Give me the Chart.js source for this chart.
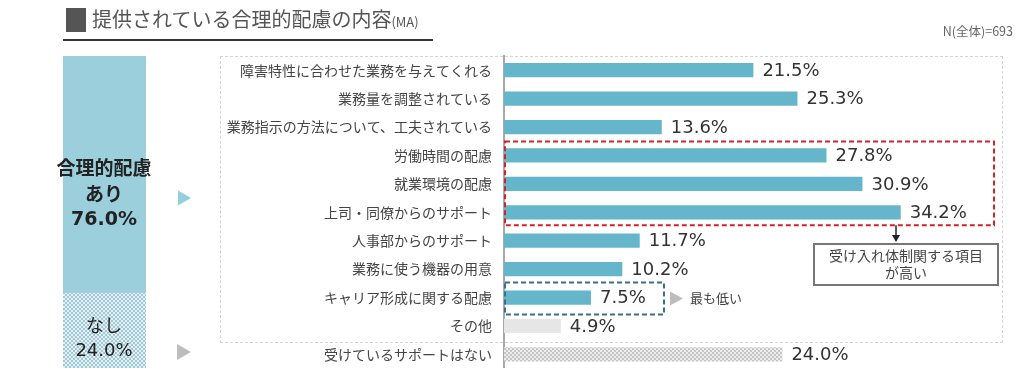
<!DOCTYPE html>
<html lang="ja">
<head>
<meta charset="utf-8">
<script src="https://cdn.jsdelivr.net/npm/chart.js@4"></script>
<style>
  body { margin: 0; background: #fff; }
  #wrap { position: relative; width: 1024px; height: 368px; overflow: hidden; font-family: "Noto Sans CJK JP", "Noto Sans", sans-serif; color: #333; }
  .abs { position: absolute; white-space: nowrap; }
  #titleMark { left: 66px; top: 8px; width: 20px; height: 24px; background: #555; }
  #title { left: 92px; top: 4px; font-size: 20px; color: #555; line-height: 30px; }
  #title small { font-size: 13px; }
  #rule { left: 63px; top: 39px; width: 370px; height: 0; border-top: 2px solid #333; }
  #nTotal { left: 880px; top: 21px; width: 133px; text-align: right; font-size: 12.5px; color: #666; }
  #frame { left: 220px; top: 56px; width: 781px; height: 285px; border: 1.5px dashed #d4d4d4; }
  .share { left: 44px; width: 120px; text-align: center; color: #222; }
  #note { left: 813px; top: 243px; width: 182px; height: 37px; border: 2px solid #777; font-size: 14px; line-height: 17px; text-align: center; color: #444; padding-top: 2px; }
  #lowest { left: 690px; top: 288px; font-size: 13px; color: #444; }
</style>
</head>
<body>
<div id="wrap">
  <div class="abs" id="frame"></div>
  <canvas id="main" width="1024" height="389" class="abs" style="left:0;top:0"></canvas>
  <canvas id="share" width="83" height="312" class="abs" style="left:63px;top:56px"></canvas>
  <div class="abs" id="titleMark"></div>
  <div class="abs" id="title">提供されている合理的配慮の内容<small>(MA)</small></div>
  <div class="abs" id="rule"></div>
  <div class="abs" id="nTotal">N(全体)=693</div>
  <div class="abs share" style="top:154px;font-size:19px;font-weight:bold;line-height:26px">合理的配慮<br>あり</div>
  <div class="abs share" style="top:207px;font-size:19px;font-weight:bold;font-family:'DejaVu Sans'" id="yesPct"></div>
  <div class="abs share" style="top:312px;font-size:18px;line-height:24px">なし</div>
  <div class="abs share" style="top:339px;font-size:18px;font-family:'DejaVu Sans'" id="noPct"></div>
  <div class="abs" id="note">受け入れ体制関する項目<br>が高い</div>
  <div class="abs" id="lowest"></div>
</div>
<script>
// data
const categories = [
  '障害特性に合わせた業務を与えてくれる',
  '業務量を調整されている',
  '業務指示の方法について、工夫されている',
  '労働時間の配慮',
  '就業環境の配慮',
  '上司・同僚からのサポート',
  '人事部からのサポート',
  '業務に使う機器の用意',
  'キャリア形成に関する配慮',
  'その他',
  '受けているサポートはない'
];
const values = [21.5, 25.3, 13.6, 27.8, 30.9, 34.2, 11.7, 10.2, 7.5, 4.9, 24.0];
const shareLabels = ['合理的配慮あり', 'なし'];
const shareValues = [76.0, 24.0];

function checker(c1, c2, size) {
  const p = document.createElement('canvas');
  p.width = size * 2; p.height = size * 2;
  const g = p.getContext('2d');
  g.fillStyle = c1; g.fillRect(0, 0, size * 2, size * 2);
  g.fillStyle = c2;
  g.fillRect(0, 0, size, size);
  g.fillRect(size, size, size, size);
  return g.createPattern(p, 'repeat');
}

const mainCtx = document.getElementById('main').getContext('2d');
const grayPattern = checker('#eeeeee', '#c4c4c4', 2);
const bluePattern = checker('#e6f1f4', '#9fc6d4', 2);

const barColors = categories.map((c, i) => {
  if (i === categories.length - 1) return grayPattern;
  if (c === 'その他') return '#e6e6e6';
  return '#66b6cb';
});

function triangle(ctx, x, y, w, h, color) {
  ctx.fillStyle = color;
  ctx.beginPath();
  ctx.moveTo(x, y - h / 2);
  ctx.lineTo(x + w, y);
  ctx.lineTo(x, y + h / 2);
  ctx.closePath();
  ctx.fill();
}

const valueLabels = {
  id: 'valueLabels',
  afterDatasetsDraw(chart) {
    const ctx = chart.ctx;
    const meta = chart.getDatasetMeta(0);
    ctx.save();
    ctx.font = '18px "DejaVu Sans"';
    ctx.fillStyle = '#333';
    ctx.textBaseline = 'middle';
    meta.data.forEach((bar, i) => {
      ctx.fillText(values[i].toFixed(1) + '%', bar.x + 9, bar.y + 1);
    });
    ctx.restore();
  }
};

const callouts = {
  id: 'callouts',
  afterDraw(chart) {
    const ctx = chart.ctx;
    const bars = chart.getDatasetMeta(0).data;
    const left = chart.chartArea.left;
    ctx.save();
    ctx.setLineDash([5, 3]);
    ctx.lineWidth = 2;
    // red box: rows 労働時間 .. 上司・同僚
    ctx.strokeStyle = '#d2232a';
    ctx.strokeRect(left + 1, bars[3].y - 14, 993 - left, bars[5].y - bars[3].y + 27);
    // blue box: キャリア形成
    ctx.strokeStyle = '#3b7088';
    ctx.strokeRect(left + 1, bars[8].y - 15, 663 - left, 32);
    ctx.setLineDash([]);
    // arrow down to note
    ctx.strokeStyle = '#222';
    ctx.lineWidth = 1.5;
    ctx.beginPath();
    ctx.moveTo(896, bars[5].y + 13);
    ctx.lineTo(896, 238);
    ctx.stroke();
    ctx.fillStyle = '#222';
    ctx.beginPath();
    ctx.moveTo(892, 235);
    ctx.lineTo(900, 235);
    ctx.lineTo(896, 242);
    ctx.closePath();
    ctx.fill();
    // pointers
    triangle(ctx, 178, 198, 13, 15, '#93cfdc');
    triangle(ctx, 177, 352, 14, 16, '#bdbdbd');
    triangle(ctx, 670, bars[8].y + 1, 13, 14, '#bdbdbd');
    const low = document.getElementById('lowest');
    low.textContent = '最も低い';
    low.style.top = (bars[8].y - 10) + 'px';
    ctx.restore();
  }
};

new Chart(mainCtx, {
  type: 'bar',
  data: {
    labels: categories,
    datasets: [{
      data: values,
      backgroundColor: barColors,
      categoryPercentage: 1,
      barPercentage: 0.5
    }]
  },
  options: {
    responsive: false,
    animation: false,
    indexAxis: 'y',
    layout: { padding: { top: 56, bottom: 0, right: 56, left: 0 } },
    plugins: { legend: { display: false }, tooltip: { enabled: false } },
    scales: {
      x: { display: false, min: 0, max: 40 },
      y: {
        afterFit: function (scale) { scale.width = 504; },
        grid: { display: false, drawTicks: false },
        border: { display: true, color: '#a8a8a8', width: 2 },
        ticks: {
          padding: 12,
          color: '#444',
          font: { family: '"Noto Sans CJK JP"', size: 14 }
        }
      }
    }
  },
  plugins: [valueLabels, callouts]
});

document.getElementById('yesPct').textContent = shareValues[0].toFixed(1) + '%';
document.getElementById('noPct').textContent = shareValues[1].toFixed(1) + '%';

new Chart(document.getElementById('share').getContext('2d'), {
  type: 'bar',
  data: {
    labels: [''],
    datasets: [
      { label: shareLabels[1], data: [shareValues[1]], backgroundColor: bluePattern },
      { label: shareLabels[0], data: [shareValues[0]], backgroundColor: '#9bcfdc' }
    ]
  },
  options: {
    responsive: false,
    animation: false,
    datasets: { bar: { categoryPercentage: 1, barPercentage: 1 } },
    plugins: { legend: { display: false }, tooltip: { enabled: false } },
    scales: {
      x: { display: false, stacked: true },
      y: { display: false, stacked: true, min: 0, max: 100 }
    }
  }
});
</script>
</body>
</html>
